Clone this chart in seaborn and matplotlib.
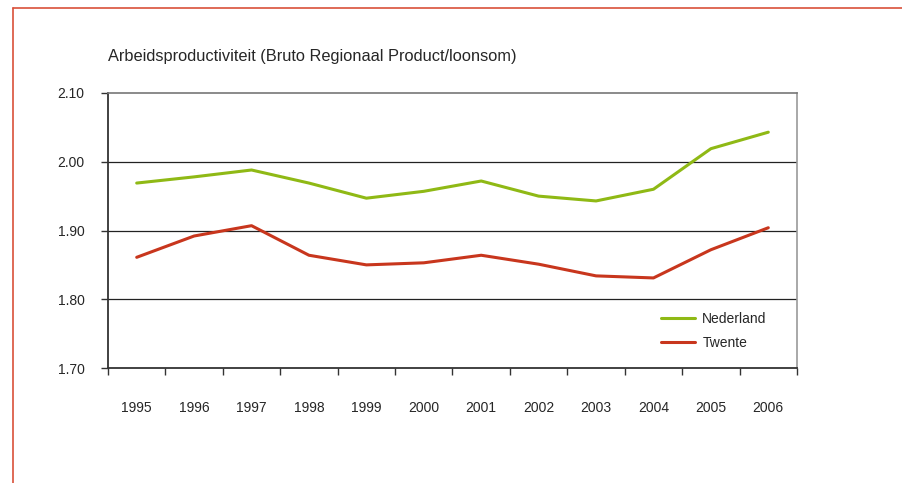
import pandas as pd
import matplotlib.pyplot as plt
import seaborn as sns
from matplotlib.lines import Line2D

years = ['1995', '1996', '1997', '1998', '1999', '2000', '2001', '2002', '2003', '2004', '2005', '2006']
nederland = [1.969, 1.978, 1.988, 1.969, 1.947, 1.957, 1.972, 1.950, 1.943, 1.960, 2.019, 2.043]
twente = [1.861, 1.892, 1.907, 1.864, 1.850, 1.853, 1.864, 1.851, 1.834, 1.831, 1.872, 1.904]
y_ticks = [1.70, 1.80, 1.90, 2.00, 2.10]

df = pd.DataFrame({
    'pos': list(range(len(years))) * 2,
    'value': nederland + twente,
    'regio': ['Nederland'] * len(years) + ['Twente'] * len(years),
})

sns.set_style('white')
plt.rcParams['font.family'] = ['Liberation Sans', 'DejaVu Sans']

fig = plt.figure(figsize=(9.03, 4.83), dpi=100)
ax = fig.add_axes([108 / 903, 1 - 368 / 483, 689 / 903, 275 / 483])

green = '#8fb915'
red = '#c8361d'
sns.lineplot(data=df, x='pos', y='value', hue='regio', palette=[green, red],
             linewidth=2.2, ax=ax, legend=False)

ax.set_xlim(-0.5, len(years) - 0.5)
ax.set_ylim(1.70, 2.10)
ax.set_xlabel('')
ax.set_ylabel('')

# gridlines
for v in y_ticks[1:-1]:
    ax.axhline(v, color='#222222', lw=0.9, zorder=0)

ax.set_yticks(y_ticks)
ax.set_yticklabels(['%.2f' % v for v in y_ticks], fontsize=10)
ax.tick_params(axis='y', which='major', length=5, width=1, color='#333333', pad=12, left=True)

ax.set_xticks([i - 0.5 for i in range(len(years) + 1)])
ax.set_xticklabels([''] * (len(years) + 1))
ax.set_xticks(range(len(years)), minor=True)
ax.set_xticklabels(years, minor=True, fontsize=10)
ax.tick_params(axis='x', which='major', length=5, width=1, color='#333333', direction='out', bottom=True)
ax.tick_params(axis='x', which='minor', length=0, pad=24)

for side in ['left', 'bottom']:
    ax.spines[side].set_color('#333333')
    ax.spines[side].set_linewidth(1.3)
ax.spines['top'].set_color('#777777')
ax.spines['top'].set_linewidth(1.2)
ax.spines['right'].set_color('#999999')
ax.spines['right'].set_linewidth(1.2)

handles = [Line2D([0], [0], color=green, lw=2.2), Line2D([0], [0], color=red, lw=2.2)]
ax.legend(handles, ['Nederland', 'Twente'], frameon=False, loc='upper left',
          bbox_to_anchor=(0.785, 0.25), fontsize=10, handlelength=2.45,
          labelspacing=0.75, handletextpad=0.5)

fig.text(108 / 903, 1 - 57 / 483, 'Arbeidsproductiviteit (Bruto Regionaal Product/loonsom)',
         fontsize=11.8, va='center', ha='left')

# red frame
fig.add_artist(Line2D([13 / 903, 1], [1 - 8 / 483, 1 - 8 / 483], color='#d9503a', lw=1.2))
fig.add_artist(Line2D([13 / 903, 13 / 903], [0, 1 - 8 / 483], color='#d9503a', lw=1.2))

fig.savefig('out.png', dpi=100)
